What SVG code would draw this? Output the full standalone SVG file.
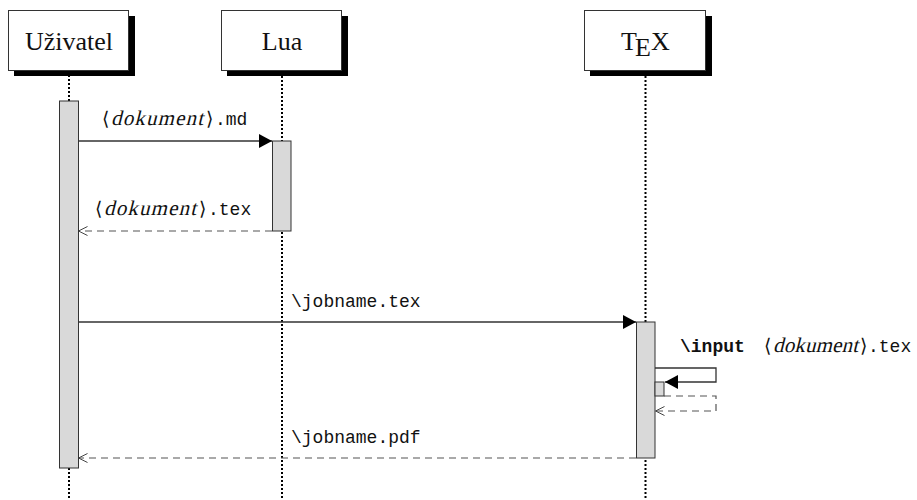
<svg xmlns="http://www.w3.org/2000/svg" width="917" height="500" viewBox="0 0 917 500">
<defs>
<marker id="fill" markerWidth="14" markerHeight="14" refX="13" refY="7" orient="auto" markerUnits="userSpaceOnUse">
<path d="M0,0 L13,7 L0,14 Z" fill="#000"/>
</marker>
<marker id="open" markerWidth="10" markerHeight="12" refX="9" refY="6" orient="auto" markerUnits="userSpaceOnUse">
<path d="M0,1.5 L9,6 L0,10.5" fill="none" stroke="#444" stroke-width="1"/>
</marker>
</defs>
<style>
.box{fill:#fff;stroke:#333;stroke-width:1}
.shadow{fill:#000}
.head{font-family:"Liberation Serif","DejaVu Serif",serif;font-size:26px;fill:#111}
.life{stroke:#000;stroke-width:2;stroke-dasharray:2 2;fill:none}
.act{fill:#d9d9d9;stroke:#333;stroke-width:1}
.msg{stroke:#333;stroke-width:1.3;fill:none}
.ret{stroke:#555;stroke-width:1.2;fill:none;stroke-dasharray:7 5}
.lbl{font-size:18px;fill:#111}
.it{font-family:"Liberation Serif",serif;font-style:normal;font-size:21px;fill:#111}
.br{font-family:"DejaVu Serif",serif;font-style:normal;font-size:19px}
.tt{font-family:"Liberation Mono","DejaVu Sans Mono",monospace;font-size:18px}
</style>
<g id="lifelines">
<line class="life" x1="69" y1="71" x2="69" y2="101"/>
<line class="life" x1="69" y1="468" x2="69" y2="500"/>
<line class="life" x1="282" y1="76" x2="282" y2="500"/>
<line class="life" x1="645.5" y1="76" x2="645.5" y2="500"/>
</g>
<g id="uzivatel">
<rect class="shadow" x="14" y="16" width="121" height="60"/>
<rect class="box" x="8.5" y="10.5" width="120" height="60"/>
<text class="head" x="69" y="50" text-anchor="middle">Uživatel</text>
</g>
<g id="lua">
<rect class="shadow" x="227" y="16" width="121" height="60"/>
<rect class="box" x="221.5" y="10.5" width="120" height="60"/>
<text class="head" x="282" y="50" text-anchor="middle">Lua</text>
</g>
<g id="tex">
<rect class="shadow" x="590" y="16" width="122" height="60"/>
<rect class="box" x="584.5" y="10.5" width="121" height="60"/>
<text class="head" y="50"><tspan x="621">T</tspan><tspan x="635" y="56">E</tspan><tspan x="651" y="50">X</tspan></text>
</g>
<g id="connectors">
<line class="msg" x1="78.5" y1="141" x2="272" y2="141" marker-end="url(#fill)"/>
<line class="ret" x1="272" y1="231" x2="78.5" y2="231" marker-end="url(#open)"/>
<line class="msg" x1="78.5" y1="322" x2="636" y2="322" marker-end="url(#fill)"/>
<polyline class="msg" points="655,368 716,368 716,382 665,382" marker-end="url(#fill)"/>
<polyline class="ret" points="664,396 716,396 716,411 655.5,411" marker-end="url(#open)"/>
<line class="ret" x1="636" y1="458" x2="78.5" y2="458" marker-end="url(#open)"/>
</g>
<g id="activations">
<rect class="act" x="59.5" y="101" width="19" height="367"/>
<rect class="act" x="272.5" y="141" width="18.5" height="90"/>
<rect class="act" x="636.5" y="322" width="18.5" height="136"/>
<rect class="act" x="655" y="382" width="9" height="14"/>
</g>
<g id="labels">
<text class="lbl" y="125"><tspan class="br" x="102">⟨</tspan><tspan class="br" x="206">⟩</tspan><tspan class="tt" x="215">.md</tspan></text>
<text class="it" transform="translate(111,125) skewX(-14)" textLength="92">dokument</text>
<text class="lbl" y="215"><tspan class="br" x="95">⟨</tspan><tspan class="br" x="199">⟩</tspan><tspan class="tt" x="208">.tex</tspan></text>
<text class="it" transform="translate(104,215) skewX(-14)" textLength="92">dokument</text>
<text class="lbl tt" x="291" y="307">\jobname.tex</text>
<text class="lbl tt" x="291" y="443">\jobname.pdf</text>
<text class="lbl" y="352"><tspan class="tt" font-weight="bold" x="680">\input</tspan><tspan class="br" x="764">⟨</tspan><tspan class="br" x="860">⟩</tspan><tspan class="tt" x="868">.tex</tspan></text>
<text class="it" transform="translate(773,352) skewX(-14)" textLength="85">dokument</text>
</g>
</svg>
